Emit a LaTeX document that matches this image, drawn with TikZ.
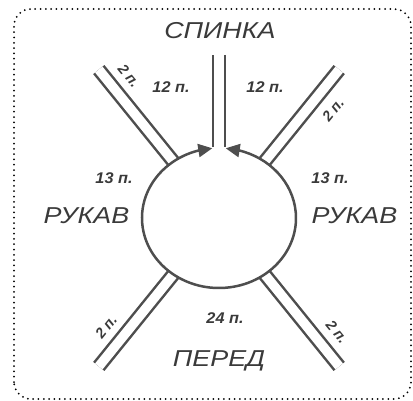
\documentclass[tikz,border=0pt]{standalone}
\usepackage{fontspec}
\setmainfont{Liberation Sans}
\usetikzlibrary{calc,shapes.geometric,arrows.meta,bending}
\definecolor{ink}{RGB}{78,78,78}
\definecolor{txt}{RGB}{58,58,58}
\begin{document}
\begin{tikzpicture}[x=1pt,y=1pt,
  pair/.style={draw=ink, line width=2.5pt, double=white, double distance=9.5pt},
  frame/.style={draw=black, line width=2pt, line cap=round, dash pattern=on 0pt off 5.3pt, rounded corners=17pt},
  big/.style={font=\fontsize{23}{25}\selectfont\itshape, text=txt, inner sep=0pt, anchor=base, xscale=1.17},
  cnt/.style={font=\fontsize{15.5}{17}\selectfont\bfseries\itshape, text=txt, inner sep=0pt, anchor=base, xscale=1.05},
  rib/.style={font=\fontsize{14.5}{16}\selectfont\bfseries\itshape, text=txt, inner sep=0pt},
  neck/.style={draw=ink, line width=2.5pt, >={Triangle[length=14pt,width=13pt]}, <->},
]
\useasboundingbox (0,0) rectangle (413,400);

% dotted outline
\draw[frame] (14,1) rectangle (411,391);

% centre of the neckline and outer ends of the raglan lines
\coordinate (C) at (219,182);
\coordinate (ul) at ($(C)+(129:191)$);
\coordinate (ur) at ($(C)+(51:191)$);
\coordinate (ll) at ($(C)+(231:191)$);
\coordinate (lr) at ($(C)+(309:191)$);
\coordinate (vtop) at (219,345);
\coordinate (vbot) at (219,253);

% raglan double lines
\draw[pair] (C) -- (ul);
\draw[pair] (C) -- (ur);
\draw[pair] (C) -- (ll);
\draw[pair] (C) -- (lr);

% neckline
\node[ellipse, minimum width=154pt, minimum height=140pt, inner sep=0pt, fill=white] (ring) at (C) {};
\draw[neck]
  ([shift={(95:77 and 70)}]C) arc[start angle=95, end angle=445, x radius=77, y radius=70];

% centre back double line
\draw[pair] (vtop) -- (vbot);

% part names
\node[big] (back) at (220,361) {СПИНКА};
\node[big] (slvl) at (86.5,177) {РУКАВ};
\node[big] (slvr) at (354.5,177) {РУКАВ};
\node[big] (front) at (219,34) {ПЕРЕД};

% stitch counts
\node[cnt] (b1) at (171,307) {12 п.};
\node[cnt] (b2) at (265,307) {12 п.};
\node[cnt] (s1) at (114,217) {13 п.};
\node[cnt] (s2) at (330,217) {13 п.};
\node[cnt] (f1) at (225,77) {24 п.};

% raglan stitches
\node[rib, rotate=-51] (r1) at (129,324) {2 п.};
\node[rib, rotate=51] (r2) at (333,290) {2 п.};
\node[rib, rotate=51] (r3) at (106,73) {2 п.};
\node[rib, rotate=-51] (r4) at (337,68) {2 п.};
\end{tikzpicture}
\end{document}
